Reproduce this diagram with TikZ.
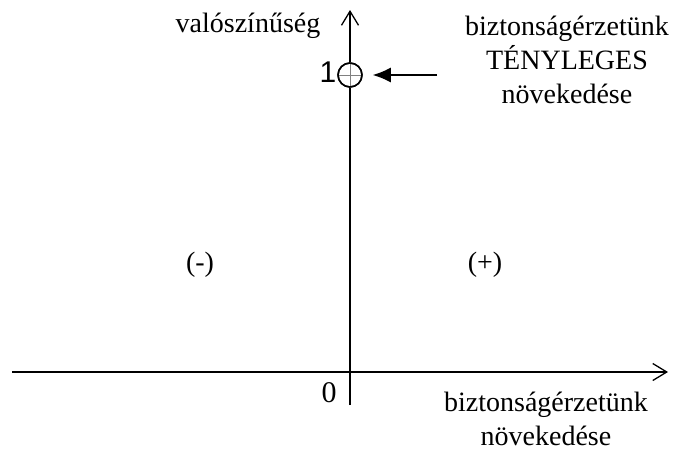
\documentclass[tikz,border=0pt]{standalone}
\usepackage{fontspec}
\setmainfont{Liberation Serif}
\newfontfamily\arialfont{Liberation Sans}
\usetikzlibrary{arrows.meta}
\tikzset{
  axis/.style={line width=1.3pt,-{Straight Barb[length=14pt,width=17pt,line width=1.3pt]}},
  lbl/.style={inner sep=0pt,font=\fontsize{28}{34}\selectfont},
  mlbl/.style={lbl,align=center,anchor=north},
  pointer/.style={line width=1.4pt,-{Latex[length=18pt,width=15pt]}}
}
\begin{document}
\begin{tikzpicture}[x=1pt,y=-1pt]
\useasboundingbox (0,0) rectangle (677,453);
% axes
\coordinate (xs) at (12,372);
\coordinate (xe) at (668,372);
\coordinate (ys) at (350,405);
\coordinate (ye) at (350,10);
\draw[axis] (xs) -- (xe);
\draw[axis] (ys) -- (ye);
% circle marker
\node[circle,draw,line width=1.5pt,minimum size=24pt,inner sep=0pt,fill=white] (one) at (350,75) {};
\draw[gray,line width=0.6pt] (one.north) -- (one.south) (one.west) -- (one.east);
\node[circle,draw,line width=1.5pt,minimum size=24pt,inner sep=0pt] at (one) {};
\node[inner sep=0pt,anchor=base,font=\arialfont\fontsize{30}{34}\selectfont] (lab1) at (328,82) {1};
\coordinate (ps) at (437,75);
\draw[pointer,shorten >=10pt] (ps) -- (one.east);
% labels
\node[lbl,anchor=base] (ylab) at (248,32) {valószínűség};
\node[mlbl] (toplab) at (567,16) {biztonságérzetünk\\TÉNYLEGES\\növekedése};
\node[mlbl] (xlab) at (546,392) {biztonságérzetünk\\növekedése};
\node[lbl,anchor=base,font=\fontsize{30}{34}\selectfont] (zero) at (329,402) {0};
\node[lbl] (minus) at (200,265) {(-)};
\node[lbl] (plus) at (485,265) {(+)};
\end{tikzpicture}
\end{document}
